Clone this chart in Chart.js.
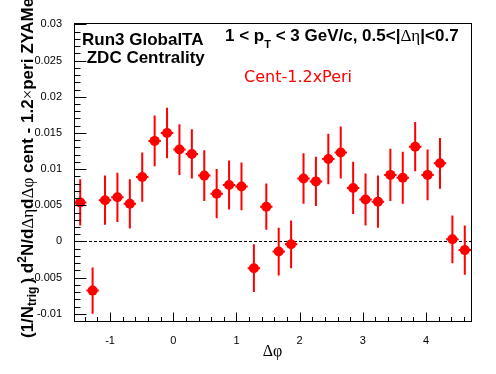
<!DOCTYPE html>
<html>
<head>
<meta charset="utf-8">
<script src="https://cdn.jsdelivr.net/npm/chart.js@4/dist/chart.umd.min.js"></script>
<style>
html,body{margin:0;padding:0;background:#fff;}
canvas{display:block;}
</style>
</head>
<body>
<canvas id="c" width="496" height="374"></canvas>
<script>
// ---- data ----
const dphi = [-1.4726,-1.2763,-1.0799,-0.8836,-0.6872,-0.4909,-0.2945,-0.0982,
  0.0982,0.2945,0.4909,0.6872,0.8836,1.0799,1.2763,1.4726,
  1.6690,1.8653,2.0617,2.2580,2.4544,2.6507,2.8471,3.0434,
  3.2398,3.4361,3.6325,3.8288,4.0252,4.2215,4.4179,4.6142];
const yieldVals = [0.0054,-0.0068,0.0057,0.0061,0.0052,0.0089,0.0139,0.0150,
  0.0127,0.0121,0.0091,0.0066,0.0078,0.0076,-0.0037,0.0048,
  -0.0014,-0.0004,0.0087,0.0083,0.0114,0.0123,0.0074,0.0058,
  0.0055,0.0092,0.0088,0.0131,0.0092,0.0108,0.0003,-0.0012];
const yieldErr = [0.0032,0.0032,0.0034,0.0034,0.0034,0.0034,0.0035,0.0035,
  0.0035,0.0034,0.0035,0.0034,0.0034,0.0033,0.0033,0.0032,
  0.0033,0.0033,0.0035,0.0034,0.0035,0.0036,0.0036,0.0036,
  0.0036,0.0036,0.0036,0.0034,0.0035,0.0035,0.0033,0.0034];
const binHalfWidth = 0.0982;
const xTickValues = [-1,0,1,2,3,4];
const xTickLabels = ["-1","0","1","2","3","4"];
const yTickValues = [-0.01,-0.005,0,0.005,0.01,0.015,0.02,0.025,0.03];
const yTickLabels = ["-0.01","-0.005","0","0.005","0.01","0.015","0.02","0.025","0.03"];
const xMin = -Math.PI/2, xMax = 3*Math.PI/2;
const yMin = -0.011, yMax = 0.0302;

const SANS = '"Liberation Sans", Arial, Helvetica, sans-serif';
const SERIF = '"Liberation Serif", "Times New Roman", serif';
const DEJAVU = '"DejaVu Sans", sans-serif';

function drawRuns(ctx, x, y, runs){
  for (const r of runs){
    ctx.font = r.font;
    ctx.fillText(r.t, x, y + (r.dy||0));
    x += ctx.measureText(r.t).width + (r.gap||0);
  }
}

const rootPlugin = {
  id:'rootStyle',
  beforeDatasetsDraw(chart){
    const ctx = chart.ctx, xs = chart.scales.x, ys = chart.scales.y, ca = chart.chartArea;
    ctx.save();
    // zero dashed line
    ctx.strokeStyle = '#000'; ctx.lineWidth = 1; ctx.setLineDash([3,2]);
    const y0 = Math.round(ys.getPixelForValue(0)) + 0.5;
    ctx.beginPath(); ctx.moveTo(ca.left, y0); ctx.lineTo(ca.right, y0); ctx.stroke();
    ctx.setLineDash([]);
    // error bars
    ctx.strokeStyle = '#ff0000'; ctx.lineWidth = 2;
    for (let i=0;i<dphi.length;i++){
      const px = xs.getPixelForValue(dphi[i]);
      const py = ys.getPixelForValue(yieldVals[i]);
      const pt = ys.getPixelForValue(yieldVals[i]+yieldErr[i]);
      const pb = ys.getPixelForValue(yieldVals[i]-yieldErr[i]);
      const pl = xs.getPixelForValue(dphi[i]-binHalfWidth);
      const pr = xs.getPixelForValue(dphi[i]+binHalfWidth);
      ctx.beginPath();
      ctx.moveTo(px, Math.max(pt, ca.top)); ctx.lineTo(px, Math.min(pb, ca.bottom));
      ctx.moveTo(pl, py); ctx.lineTo(pr, py);
      ctx.stroke();
    }
    ctx.restore();
  },
  afterDraw(chart){
    const ctx = chart.ctx, xs = chart.scales.x, ys = chart.scales.y, ca = chart.chartArea;
    ctx.save();
    // frame
    ctx.strokeStyle = '#000'; ctx.lineWidth = 1;
    ctx.strokeRect(Math.round(ca.left)+0.5, Math.round(ca.top)+0.5,
                   Math.round(ca.right-ca.left), Math.round(ca.bottom-ca.top));
    // ticks
    ctx.beginPath();
    const L = Math.round(ca.left)+0.5, B = Math.round(ca.bottom)+0.5;
    for (let k=-11; k<=30; k++){
      const v = k/1000;
      const py = Math.round(ys.getPixelForValue(v))+0.5;
      const major = (k % 5 === 0);
      ctx.moveTo(L, py); ctx.lineTo(L + (major?12:6), py);
    }
    for (let k=-7; k<=23; k++){
      const v = k/5;
      if (v < xMin || v > xMax) continue;
      const px = Math.round(xs.getPixelForValue(v))+0.5;
      const major = (k % 5 === 0);
      ctx.moveTo(px, B); ctx.lineTo(px, B - (major?9:4.5));
    }
    ctx.stroke();
    // texts
    ctx.fillStyle = '#000'; ctx.textBaseline = 'alphabetic'; ctx.textAlign = 'left';
    ctx.font = 'bold 17px ' + SANS;
    ctx.fillText('Run3 GlobalTA', 82, 45);
    ctx.fillText(' ZDC Centrality', 82, 63);
    drawRuns(ctx, 225, 41, [
      {t:'1 < p', font:'bold 17px '+SANS},
      {t:'T', font:'bold 11px '+SANS, dy:7},
      {t:' < 3 GeV/c, 0.5<|', font:'bold 17px '+SANS},
      {t:'\u0394\u03b7', font:'17px '+SERIF},
      {t:'|<0.7', font:'bold 17px '+SANS}
    ]);
    ctx.fillStyle = '#ff0000';
    ctx.font = '16px ' + DEJAVU;
    ctx.fillText('Cent-1.2xPeri', 244, 82);
    // x title
    ctx.fillStyle = '#000';
    ctx.font = '16px ' + SERIF;
    ctx.textAlign = 'center';
    ctx.fillText('\u0394\u03c6', (ca.left+ca.right)/2, 356);
    // y title
    ctx.textAlign = 'left';
    ctx.translate(33, 338);
    ctx.rotate(-Math.PI/2);
    drawRuns(ctx, 0, 0, [
      {t:'(1/N', font:'bold 17px '+SANS},
      {t:'trig', font:'bold 12px '+SANS, dy:3, gap:3},
      {t:')', font:'bold 17px '+SANS},
      {t:' d', font:'bold 17px '+SANS},
      {t:'2', font:'bold 12px '+SANS, dy:-7},
      {t:'N/d', font:'bold 17px '+SANS},
      {t:'\u0394\u03b7', font:'17px '+SERIF},
      {t:'d', font:'bold 17px '+SANS},
      {t:'\u0394\u03c6', font:'17px '+SERIF},
      {t:' cent - 1.2', font:'bold 17px '+SANS},
      {t:'\u00d7', font:'17px '+SERIF},
      {t:'peri ZYAMed', font:'bold 17px '+SANS}
    ]);
    ctx.restore();
  }
};

new Chart(document.getElementById('c').getContext('2d'), {
  type:'scatter',
  data:{ datasets:[{
    data: dphi.map((x,i)=>({x:x, y:yieldVals[i]})),
    pointRadius:5, pointHoverRadius:5, pointStyle:'circle',
    backgroundColor:'#ff0000', borderColor:'#ff0000', borderWidth:0, showLine:false
  }]},
  options:{
    responsive:false, animation:false, devicePixelRatio:1,
    layout:{padding:{top:23,right:25,left:0,bottom:0}},
    plugins:{legend:{display:false}, tooltip:{enabled:false}},
    events:[],
    scales:{
      x:{ type:'linear', min:xMin, max:xMax,
        afterBuildTicks:s=>{ s.ticks = xTickValues.map(v=>({value:v})); },
        afterFit:s=>{ s.height = 53; },
        grid:{display:false}, border:{display:false},
        ticks:{ color:'#000', font:{family:SANS, size:11}, padding:5, maxRotation:0, autoSkip:false,
          callback:(v)=>xTickLabels[xTickValues.indexOf(v)] }
      },
      y:{ type:'linear', min:yMin, max:yMax,
        afterBuildTicks:s=>{ s.ticks = yTickValues.map(v=>({value:v})); },
        afterFit:s=>{ s.width = 74; },
        grid:{display:false}, border:{display:false},
        ticks:{ color:'#000', font:{family:SANS, size:11}, padding:4, autoSkip:false,
          callback:(v)=>{ const i = yTickValues.findIndex(t=>Math.abs(t-v)<1e-9); return i>=0?yTickLabels[i]:''; } }
      }
    }
  },
  plugins:[rootPlugin]
});
</script>
</body>
</html>
